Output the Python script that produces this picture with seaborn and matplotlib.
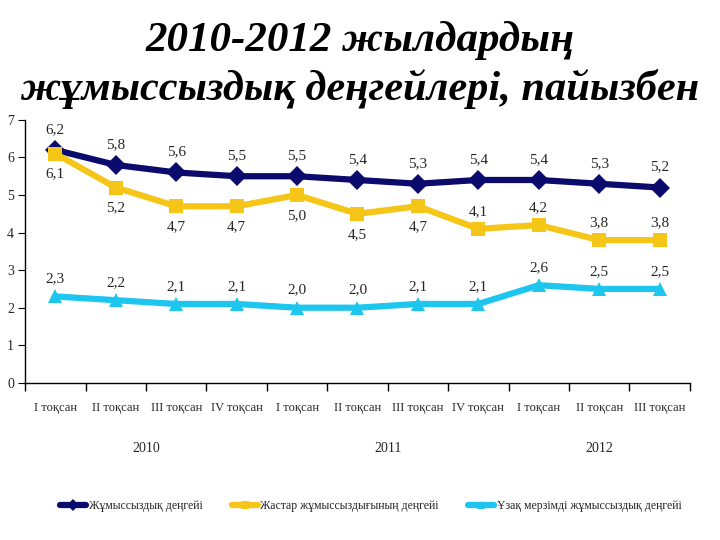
import matplotlib
matplotlib.use("Agg")
import matplotlib.pyplot as plt
import seaborn as sns
import pandas as pd
import numpy as np

categories = ["І тоқсан", "ІІ тоқсан", "ІІІ тоқсан", "ІV тоқсан",
              "І тоқсан", "ІІ тоқсан", "ІІІ тоқсан", "ІV тоқсан",
              "І тоқсан", "ІІ тоқсан", "ІІІ тоқсан"]
years = ["2010", "2011", "2012"]
series_names = ["Жұмыссыздық деңгейі", "Жастар жұмыссыздығының деңгейі",
                "Ұзақ мерзімді жұмыссыздық деңгейі"]
overall = [6.2, 5.8, 5.6, 5.5, 5.5, 5.4, 5.3, 5.4, 5.4, 5.3, 5.2]
youth = [6.1, 5.2, 4.7, 4.7, 5.0, 4.5, 4.7, 4.1, 4.2, 3.8, 3.8]
longterm = [2.3, 2.2, 2.1, 2.1, 2.0, 2.0, 2.1, 2.1, 2.6, 2.5, 2.5]

colors = ["#0b0b6e", "#f5c518", "#1cc6ee"]
markers = ["D", "s", "^"]

rows = []
for name, vals in zip(series_names, [overall, youth, longterm]):
    for i, v in enumerate(vals):
        rows.append({"x": i, "value": v, "series": name})
df = pd.DataFrame(rows)

sns.set_style("white")
plt.rcParams["font.family"] = ["Liberation Serif", "DejaVu Serif"]

fig = plt.figure(figsize=(7.2, 5.4), dpi=100)
ax = fig.add_axes([0.035, 0.291, 0.923, 0.487])

sns.lineplot(data=df, x="x", y="value", hue="series", style="series",
             palette=colors, markers=markers, dashes=False, linewidth=4.5,
             markersize=10, markeredgewidth=0, ax=ax, legend=True)

ax.set_xlim(-0.5, len(categories) - 0.5)
ax.set_ylim(0, 7)
ax.set_yticks(range(0, 8))
ax.set_xticks(range(len(categories)))
ax.set_xticklabels(categories, fontsize=9)
ax.set_xticks(np.arange(-0.5, len(categories), 1), minor=True)
ax.tick_params(axis="x", which="major", length=0, pad=14, bottom=True)
ax.tick_params(axis="x", which="minor", length=6, width=1, direction="out",
               bottom=True, color="black")
ax.tick_params(axis="y", length=5, direction="out", labelsize=10, pad=3,
               left=True, color="black")
ax.set_xlabel("")
ax.set_ylabel("")
for s in ["top", "right"]:
    ax.spines[s].set_visible(False)
for s in ["left", "bottom"]:
    ax.spines[s].set_color("black")
    ax.spines[s].set_linewidth(1)

def fmt(v):
    return f"{v:.1f}".replace(".", ",")

below_youth = [True, True, True, True, True, True, True, False, False, False, False]
for i, v in enumerate(overall):
    ax.annotate(fmt(v), (i, v), xytext=(0, 10), textcoords="offset points",
                ha="center", va="bottom", fontsize=11)
for i, v in enumerate(youth):
    if below_youth[i]:
        ax.annotate(fmt(v), (i, v), xytext=(0, -10), textcoords="offset points",
                    ha="center", va="top", fontsize=11)
    else:
        ax.annotate(fmt(v), (i, v), xytext=(0, 8), textcoords="offset points",
                    ha="center", va="bottom", fontsize=11)
for i, v in enumerate(longterm):
    ax.annotate(fmt(v), (i, v), xytext=(0, 8), textcoords="offset points",
                ha="center", va="bottom", fontsize=11)

year_pos = [1.5, 5.5, 9.0]
for yp, yr in zip(year_pos, years):
    ax.text(yp, -1.75, yr, ha="center", va="center", fontsize=10,
            transform=ax.transData)

handles, labels = ax.get_legend_handles_labels()
ax.legend(handles, labels, loc="center", bbox_to_anchor=(0.52, -0.47),
          ncol=3, frameon=False, fontsize=8.5, handlelength=2.2,
          columnspacing=2.5, markerscale=0.6, handletextpad=0.2)

fig.text(0.5, 0.925, "2010-2012 жылдардың", ha="center", va="center",
         fontsize=31, fontweight="bold", fontstyle="italic", color="black")
fig.text(0.5, 0.835, "жұмыссыздық деңгейлері, пайызбен", ha="center", va="center",
         fontsize=30.5, fontweight="bold", fontstyle="italic", color="black")

fig.savefig("out.png", dpi=100)
